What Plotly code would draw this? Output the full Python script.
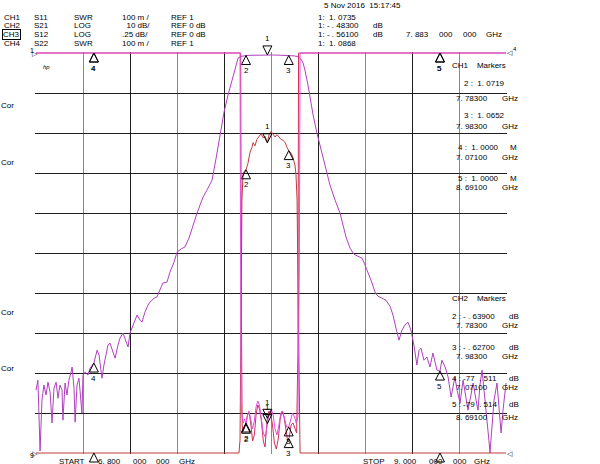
import plotly.graph_objects as go

# ---------------- data ----------------
F_START, F_STOP = 6.8, 9.0  # GHz

# CH2  S21  LOG 10 dB/div  REF 0 dB
s21_freq = [6.800, 6.809, 6.819, 6.828, 6.837, 6.847, 6.856, 6.866, 6.875, 6.884,
            6.894, 6.903, 6.912, 6.922, 6.926, 6.936, 6.945, 6.954, 6.964, 6.969,
            6.978, 6.983, 6.992, 7.001, 7.006, 7.015, 7.020, 7.029, 7.043, 7.053,
            7.071, 7.086, 7.095, 7.104, 7.109, 7.118, 7.128, 7.137, 7.146, 7.156,
            7.170, 7.184, 7.193, 7.207, 7.221, 7.231, 7.240, 7.254, 7.273, 7.287,
            7.296, 7.310, 7.324, 7.334, 7.352, 7.366, 7.380, 7.394, 7.413, 7.427,
            7.446, 7.460, 7.479, 7.497, 7.516, 7.535, 7.554, 7.568, 7.582, 7.600,
            7.624, 7.643, 7.661, 7.680, 7.699, 7.717, 7.732, 7.746, 7.760, 7.769,
            7.783, 7.802, 7.830, 7.858, 7.883, 7.905, 7.933, 7.961, 7.983, 8.008,
            8.026, 8.040, 8.050, 8.059, 8.073, 8.083, 8.097, 8.115, 8.129, 8.143,
            8.162, 8.176, 8.200, 8.223, 8.237, 8.251, 8.270, 8.288, 8.307, 8.326,
            8.340, 8.354, 8.373, 8.387, 8.401, 8.420, 8.438, 8.457, 8.471, 8.485,
            8.499, 8.513, 8.527, 8.541, 8.555, 8.569, 8.583, 8.593, 8.602, 8.616,
            8.630, 8.644, 8.658, 8.668, 8.677, 8.691, 8.700, 8.715, 8.729, 8.743,
            8.752, 8.761, 8.771, 8.785, 8.799, 8.808, 8.822, 8.836, 8.846, 8.860,
            8.869, 8.878, 8.888, 8.897, 8.911, 8.920, 8.925, 8.935, 8.944, 8.958,
            8.967, 8.977, 8.986, 9.000]
s21_db = [-84.3, -81.8, -99.5, -86.8, -83.0, -85.5, -82.3, -84.8, -92.5, -83.8,
          -82.3, -86.3, -83.0, -84.3, -91.8, -82.5, -85.5, -81.8, -79.8, -78.5,
          -83.8, -92.3, -83.0, -81.3, -84.3, -90.0, -80.5, -79.8, -80.5, -78.8,
          -77.5, -74.3, -75.5, -79.3, -81.3, -78.0, -74.8, -73.0, -72.5, -74.3,
          -76.3, -73.0, -71.3, -70.0, -72.3, -73.5, -70.0, -68.0, -65.5, -66.8,
          -67.3, -64.8, -63.0, -62.3, -61.3, -61.0, -59.3, -57.5, -57.3, -54.8,
          -52.3, -49.8, -49.0, -48.5, -46.3, -43.0, -40.0, -38.0, -36.0, -34.3,
          -31.8, -26.3, -20.5, -14.8, -10.5, -6.8, -3.5, -1.25, -0.85, -0.75,
          -0.639, -0.58, -0.52, -0.49, -0.483, -0.50, -0.53, -0.58, -0.627, -0.72,
          -0.9, -1.5, -2.5, -4.3, -8.0, -11.3, -15.5, -20.0, -23.0, -26.3,
          -30.0, -33.0, -36.8, -40.0, -43.0, -46.0, -48.8, -50.3, -50.8, -51.3,
          -53.0, -54.8, -57.5, -59.8, -60.8, -61.3, -61.8, -63.3, -65.5, -68.8,
          -71.8, -69.3, -68.0, -67.3, -69.3, -73.0, -78.0, -74.3, -73.8, -76.8,
          -76.0, -78.5, -75.0, -77.3, -79.3, -79.5, -76.8, -78.5, -81.0, -86.0,
          -83.0, -81.0, -84.3, -87.5, -81.8, -84.8, -89.3, -85.5, -82.5, -86.8,
          -89.3, -83.0, -79.3, -84.3, -91.0, -96.8, -100.0, -91.8, -86.8, -82.5,
          -88.0, -95.0, -89.3, -82.5]

# CH3  S12  LOG .25 dB/div  REF 0 dB   (off-screen low values sit on the bottom edge)
s12_freq = [6.800, 7.750, 7.755, 7.760, 7.764, 7.769, 7.774, 7.783, 7.792, 7.802,
            7.811, 7.816, 7.825, 7.834, 7.844, 7.853, 7.863, 7.872, 7.883, 7.891,
            7.900, 7.909, 7.919, 7.928, 7.937, 7.947, 7.956, 7.966, 7.975, 7.983,
            7.994, 8.003, 8.012, 8.017, 8.022, 8.026, 8.031, 8.036, 9.000]
s12_db = [-2.5, -2.5, -2.42, -1.54, -0.92, -0.76, -0.74, -0.73, -0.69, -0.62,
          -0.59, -0.56, -0.58, -0.54, -0.525, -0.505, -0.53, -0.52, -0.561, -0.51,
          -0.49, -0.505, -0.525, -0.51, -0.525, -0.54, -0.545, -0.56, -0.59, -0.61,
          -0.625, -0.655, -0.70, -0.76, -0.92, -1.42, -2.17, -2.5, -2.5]

# CH1  S11  SWR 100 m/div  REF 1   (off-screen high values sit on the top edge)
s11_freq = [6.800, 7.755, 7.757, 7.760, 7.765, 7.770, 7.776, 7.783, 7.790, 7.797,
            7.805, 7.813, 7.822, 7.830, 7.838, 7.846, 7.855, 7.864, 7.873, 7.883,
            7.892, 7.901, 7.910, 7.919, 7.928, 7.937, 7.946, 7.955, 7.964, 7.973,
            7.983, 7.992, 8.001, 8.010, 8.018, 8.026, 8.033, 8.036, 9.000]
s11_swr = [2.0, 2.0, 1.60, 1.12, 1.09, 1.075, 1.085, 1.0719, 1.095, 1.105,
           1.085, 1.06, 1.08, 1.115, 1.13, 1.12, 1.085, 1.05, 1.04, 1.0735,
           1.10, 1.11, 1.095, 1.06, 1.045, 1.07, 1.10, 1.105, 1.085, 1.065,
           1.0652, 1.085, 1.10, 1.09, 1.075, 1.09, 1.50, 2.0, 2.0]

# CH4  S22  SWR 100 m/div  REF 1
s22_freq = [6.800, 7.758, 7.762, 7.765, 7.770, 7.776, 7.783, 7.790, 7.798, 7.806,
            7.814, 7.822, 7.830, 7.838, 7.846, 7.855, 7.864, 7.872, 7.878, 7.883,
            7.890, 7.898, 7.907, 7.916, 7.925, 7.934, 7.943, 7.952, 7.961, 7.970,
            7.978, 7.986, 7.994, 8.003, 8.012, 8.020, 8.026, 8.029, 9.000]
s22_swr = [2.0, 2.0, 1.30, 1.07, 1.055, 1.065, 1.075, 1.095, 1.10, 1.07,
           1.03, 1.045, 1.095, 1.12, 1.11, 1.08, 1.03, 1.015, 1.05, 1.0868,
           1.105, 1.10, 1.07, 1.025, 1.01, 1.035, 1.085, 1.105, 1.09, 1.05,
           1.03, 1.04, 1.07, 1.075, 1.06, 1.05, 1.25, 2.0, 2.0]

# markers (1 = active marker)
marker_labels = ["1", "2", "3", "4", "5"]
marker_freq = [7.883, 7.783, 7.983, 7.071, 8.691]
s11_marker = [1.0735, 1.0719, 1.0652, 1.0e6, 1.0e6]
s21_marker = [-0.483, -0.639, -0.627, -77.511, -79.514]
s12_marker = [-0.561, -0.73, -0.61, -99.0, -99.0]
s22_marker = [1.0868, 1.075, 1.036, 1.0e6, 1.0e6]

# ---------------- layout helpers ----------------
W, H = 600, 464
ML, MR, MT, MB = 35, 93, 52, 10
PW, PH = W - ML - MR, H - MT - MB
NDIV = 10
DIV_PX = (PH - 2) / NDIV  # 40 px per division


def yrange(top, per_div):
    pad = per_div / DIV_PX
    return [top - per_div * NDIV - pad, top + pad]


XPAD = (F_STOP - F_START) / (PW - 2)
XR = [F_START - XPAD, F_STOP + XPAD]
Y_S21 = yrange(0.0, 10.0)
Y_S12 = yrange(0.0, 0.25)
Y_SWR = yrange(2.0, 0.1)

FONT = "Liberation Sans, Arial, DejaVu Sans, sans-serif"
C_S11 = "#e050e0"
C_S21 = "#b040c0"
C_S12 = "#c03c3c"
C_S22 = "#d03060"

fig = go.Figure()

fig.add_trace(go.Scatter(x=s22_freq, y=s22_swr, yaxis="y3", mode="lines",
                         line=dict(color=C_S22, width=1), hoverinfo="skip"))
fig.add_trace(go.Scatter(x=s12_freq, y=s12_db, yaxis="y2", mode="lines",
                         line=dict(color=C_S12, width=1), hoverinfo="skip"))
fig.add_trace(go.Scatter(x=s21_freq, y=s21_db, yaxis="y", mode="lines",
                         line=dict(color=C_S21, width=1), hoverinfo="skip"))
fig.add_trace(go.Scatter(x=s11_freq, y=s11_swr, yaxis="y3", mode="lines",
                         line=dict(color=C_S11, width=1), hoverinfo="skip"))

annotations = []


def add_markers(vals, yaxis, top, bottom):
    xs, ys, syms = [], [], []
    for lab, f, v in zip(marker_labels, marker_freq, vals):
        vc = min(max(v, bottom), top)
        xs.append(f)
        ys.append(vc)
        down = lab == "1"
        syms.append("arrow-down" if down else "arrow-up")
        if vc == bottom:
            continue  # label falls off the page
        annotations.append(dict(x=f, y=vc, xref="x", yref=yaxis, text=lab,
                                showarrow=False, yshift=16 if down else -15,
                                font=dict(family=FONT, size=8, color="#000"),
                                xanchor="center", yanchor="middle"))
    fig.add_trace(go.Scatter(x=xs, y=ys, yaxis=yaxis, mode="markers",
                             cliponaxis=False, hoverinfo="skip",
                             marker=dict(symbol=syms, size=9, color="rgba(0,0,0,0)",
                                         line=dict(color="#000", width=1))))


add_markers(s21_marker, "y", 0.0, -100.0)
add_markers(s12_marker, "y2", 0.0, -2.5)
add_markers(s11_marker, "y3", 2.0, 1.0)
add_markers(s22_marker, "y3", 2.0, 1.0)


def px(x):
    return (x - ML) / PW


def py(y):
    return (H - MB - y) / PH


def txt(x, y, s, size=8, anchor="left", **kw):
    d = dict(x=px(x), y=py(y), xref="paper", yref="paper", text=s, showarrow=False,
             xanchor=anchor, yanchor="middle", borderpad=0,
             font=dict(family=FONT, size=size, color="#000"))
    d.update(kw)
    annotations.append(d)


# header block (left)
hdr_rows = [
    ("CH1", "S11", "SWR", "100 m /", "REF 1"),
    ("CH2", "S21", "LOG", "  10 dB/", "REF 0 dB"),
    ("CH3", "S12", "LOG", ".25 dB/", "REF 0 dB"),
    ("CH4", "S22", "SWR", "100 m /", "REF 1"),
]
hdr_y = [17, 26, 34.5, 43]
for (c, s, fmt, scl, ref), y in zip(hdr_rows, hdr_y):
    if c == "CH3":
        txt(2, y, c, bordercolor="#000", borderwidth=1)
    else:
        txt(3, y, c)
    txt(33, y, s)
    txt(73, y, fmt)
    txt(121, y, scl)
    txt(170, y, ref)

# header block (right)
txt(323, 5.5, "5 Nov 2016  15:17:45")
txt(317, 17, "1:  1. 0735")
txt(317, 26, "1: - . 48300")
txt(372, 26, "dB")
txt(317, 34.5, "1: - . 56100")
txt(372, 34.5, "dB")
txt(405, 34.5, "7. 883")
txt(438, 34.5, "000")
txt(462, 34.5, "000")
txt(485, 34.5, "GHz")
txt(317, 43, "1:  1. 0868")

# marker tables on the right
txt(451, 65, "CH1    Markers")
ch1_rows = [("2 :  1. 0719", "", "7. 78300"), ("3 :  1. 0652", "", "7. 98300"),
            ("4 :  1. 0000", "M", "7. 07100"), ("5 :  1. 0000", "M", "8. 69100")]
ch1_y = [(83, 98), (115, 126), (147, 157), (178, 187)]
for (a, unit, fr), (y1, y2) in zip(ch1_rows, ch1_y):
    txt(463 if unit == "" else 457, y1, a)
    if unit:
        txt(509, y1, unit)
    txt(455, y2, fr)
    txt(501, y2, "GHz")

txt(451, 298, "CH2    Markers")
ch2_rows = [("2 : - . 63900", "7. 78300"), ("3 : - . 62700", "7. 98300"),
            ("4 : -77  . 511", "7. 07100"), ("5 : -79  . 514", "8. 69100")]
ch2_y = [(316, 325), (347, 356), (378, 387), (404, 417)]
for (a, fr), (y1, y2) in zip(ch2_rows, ch2_y):
    txt(451, y1, a)
    txt(508, y1, "dB")
    txt(455, y2, fr)
    txt(501, y2, "GHz")

# left side labels
for y in [105, 162, 312, 368]:
    txt(0, y, "Cor")
txt(42, 67, "<i>hp</i>", size=6)

# reference-position indicators
txt(29, 51, "1", size=7)
txt(31, 53.5, "▷", size=7)
txt(29, 455, "9", size=7)
txt(31, 453.5, "▷", size=7)
txt(506, 52, "◁", size=7)
txt(512, 49, "4", size=6)
txt(506, 453.5, "◁", size=7)

# start / stop
txt(58, 461.5, "START")
txt(97, 461.5, "6. 800")
txt(132, 461.5, "000")
txt(155, 461.5, "000")
txt(178, 461.5, "GHz")
txt(362, 461.5, "STOP")
txt(393, 461.5, "9. 000")
txt(428, 461.5, "000")
txt(452, 461.5, "000")
txt(473, 461.5, "GHz")

GRID_DARK = "#1e1e1e"
GRID_GREY = "#8a8a8a"

fig.update_layout(
    width=W, height=H,
    margin=dict(l=ML, r=MR, t=MT, b=MB, pad=0),
    paper_bgcolor="#ffffff", plot_bgcolor="#ffffff",
    showlegend=False,
    annotations=annotations,
    xaxis=dict(range=XR, showticklabels=False, ticks="", zeroline=False,
               showgrid=True, tick0=F_START, dtick=0.44, gridcolor=GRID_DARK, gridwidth=1,
               minor=dict(tick0=F_START, dtick=0.22, showgrid=True,
                          gridcolor=GRID_GREY, gridwidth=1),
               showline=False, fixedrange=True),
    yaxis=dict(range=Y_S21, showticklabels=False, ticks="", zeroline=False,
               showgrid=True, tick0=0, dtick=10, gridcolor=GRID_DARK, gridwidth=1,
               fixedrange=True),
    yaxis2=dict(range=Y_S12, overlaying="y", showgrid=False, showticklabels=False,
                ticks="", zeroline=False, fixedrange=True),
    yaxis3=dict(range=Y_SWR, overlaying="y", showgrid=False, showticklabels=False,
                ticks="", zeroline=False, fixedrange=True),
)

fig.write_html("out.html", config={"displayModeBar": False, "staticPlot": True},
               post_script="document.body.style.margin='0';document.body.style.overflow='hidden';")
